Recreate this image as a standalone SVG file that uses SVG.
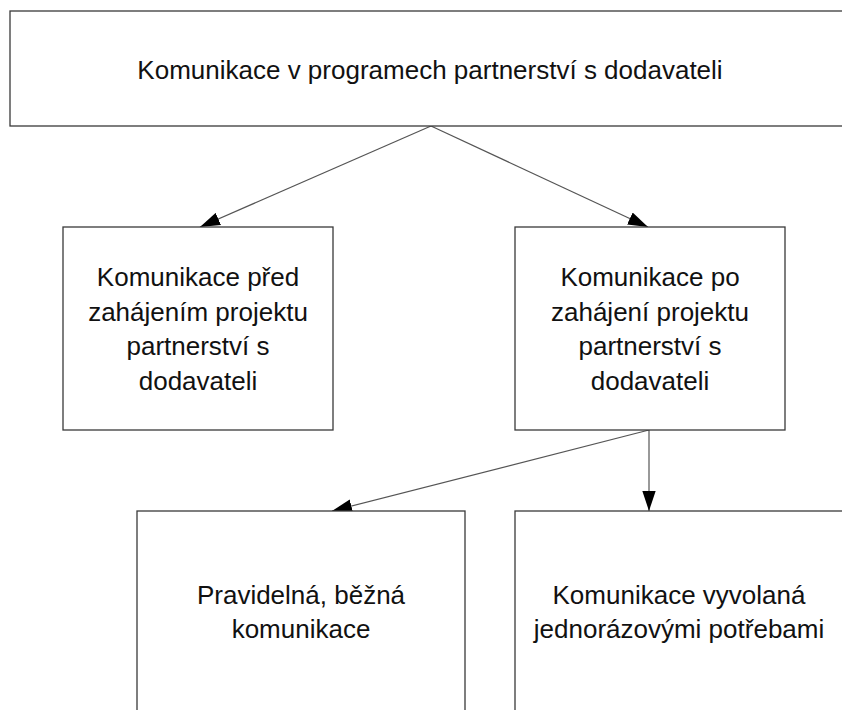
<svg xmlns="http://www.w3.org/2000/svg" width="842" height="710" viewBox="0 0 842 710">
  <style>
    .box { fill: #ffffff; stroke: #3a3a3a; stroke-width: 1.3; }
    .lbl { font-family: "Liberation Sans", Arial, sans-serif; font-size: 26px; fill: #111111; text-anchor: middle; }
    .edge { fill: none; stroke: #555555; stroke-width: 1.2; marker-end: url(#arrow); }
  </style>
  <defs>
    <marker id="arrow" markerUnits="userSpaceOnUse" markerWidth="20" markerHeight="14" viewBox="0 0 18 12" refX="18" refY="6" orient="auto">
      <path d="M0,0 L18,6 L0,12 Z" fill="#000000"/>
    </marker>
  </defs>
  <rect width="842" height="710" fill="#ffffff"/>

  <g id="connectors">
    <line class="edge" x1="431" y1="126" x2="200" y2="227"/>
    <line class="edge" x1="431" y1="126" x2="648" y2="227"/>
    <line class="edge" x1="649" y1="430" x2="332" y2="511"/>
    <line class="edge" x1="649" y1="430" x2="649" y2="511"/>
  </g>

  <g id="root">
    <rect class="box" x="10" y="11" width="850" height="115"/>
    <text class="lbl" x="430" y="79">Komunikace v programech partnerství s dodavateli</text>
  </g>

  <g id="before">
    <rect class="box" x="63" y="227" width="270" height="203"/>
    <text class="lbl" x="198" y="286">Komunikace před</text>
    <text class="lbl" x="198" y="320.5">zahájením projektu</text>
    <text class="lbl" x="198" y="355">partnerství s</text>
    <text class="lbl" x="198" y="389.5">dodavateli</text>
  </g>

  <g id="after">
    <rect class="box" x="515" y="227" width="270" height="203"/>
    <text class="lbl" x="650" y="286">Komunikace po</text>
    <text class="lbl" x="650" y="320.5">zahájení projektu</text>
    <text class="lbl" x="650" y="355">partnerství s</text>
    <text class="lbl" x="650" y="389.5">dodavateli</text>
  </g>

  <g id="regular">
    <rect class="box" x="137" y="511" width="328" height="220"/>
    <text class="lbl" x="301" y="604">Pravidelná, běžná</text>
    <text class="lbl" x="301" y="638">komunikace</text>
  </g>

  <g id="adhoc">
    <rect class="box" x="515" y="511" width="340" height="220"/>
    <text class="lbl" x="679" y="604">Komunikace vyvolaná</text>
    <text class="lbl" x="679" y="638">jednorázovými potřebami</text>
  </g>
</svg>
